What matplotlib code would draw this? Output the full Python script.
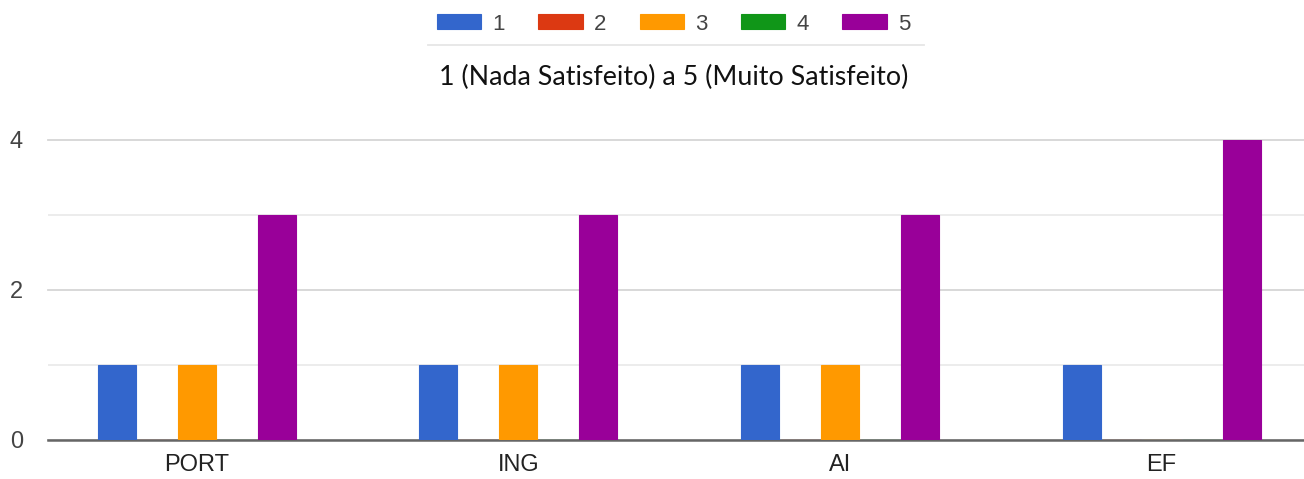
import matplotlib.pyplot as plt
from matplotlib.lines import Line2D
import numpy as np

categories = ['PORT', 'ING', 'AI', 'EF']
series_labels = ['1', '2', '3', '4', '5']
values = {
    '1': [1, 1, 1, 1],
    '2': [0, 0, 0, 0],
    '3': [1, 1, 1, 0],
    '4': [0, 0, 0, 0],
    '5': [3, 3, 3, 4],
}
colors = ['#3366cc', '#dc3912', '#ff9900', '#109618', '#990099']

fig = plt.figure(figsize=(13.04, 4.79), dpi=100)
ax = fig.add_axes([48 / 1304, 39 / 479, 1 - 48 / 1304, 300 / 479])

x = np.arange(len(categories))
pitch = 0.1244
width = 0.118
handles = []
for i, (lab, col) in enumerate(zip(series_labels, colors)):
    bars = ax.bar(x + (i - 2) * pitch, values[lab], width, color=col,
                  edgecolor=col, linewidth=0.8, zorder=3, label=lab)
    handles.append(bars)

ax.set_xlim(-0.463, 3.443)
ax.set_ylim(0, 4)
ax.set_yticks([0, 2, 4])
ax.set_yticks([1, 3], minor=True)
ax.set_xticks(x)
ax.set_xticklabels(categories)

for s in ['top', 'right', 'left']:
    ax.spines[s].set_visible(False)
ax.spines['bottom'].set_color('#666666')
ax.spines['bottom'].set_linewidth(1.8)
ax.spines['bottom'].set_zorder(2)

ax.grid(axis='y', which='major', color='#d6d6d6', linewidth=1.3, zorder=0)
ax.grid(axis='y', which='minor', color='#ebebeb', linewidth=1.3, zorder=0)
for gl in ax.get_ygridlines():
    gl.set_clip_on(False)

ax.tick_params(axis='both', which='both', length=0)
ax.tick_params(axis='y', labelsize=17, labelcolor='#444444', pad=18)
ax.tick_params(axis='x', labelsize=17, labelcolor='#222222', pad=10)
for t in ax.get_xticklabels() + ax.get_yticklabels():
    t.set_fontfamily('Liberation Sans')

fig.text(0.5165, 1 - 77 / 479, '1 (Nada Satisfeito) a 5 (Muito Satisfeito)',
         ha='center', va='center', fontsize=19.3, family='Lato', color='#111111')

leg = fig.legend(handles=handles, labels=series_labels, loc='center',
                 bbox_to_anchor=(0.5165, 1 - 24 / 479), ncol=5, frameon=False,
                 handlelength=2.0, handleheight=0.65, handletextpad=0.5,
                 columnspacing=1.5, prop={'family': 'Liberation Sans', 'size': 16})
for t in leg.get_texts():
    t.set_color('#444444')

fig.add_artist(Line2D([428 / 1304, 924 / 1304], [1 - 45 / 479, 1 - 45 / 479],
                      color='#e6e6e6', linewidth=1.3))

fig.savefig('out.png', dpi=100)
